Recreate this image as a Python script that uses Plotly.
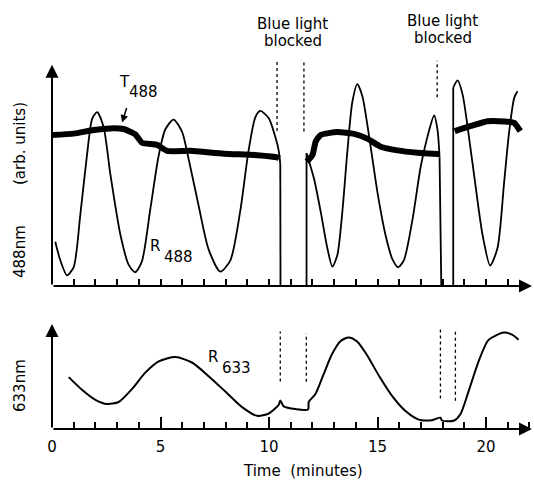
import plotly.graph_objects as go

# ---------------- data ----------------
# time in minutes; None separates blocked / vertical segments
t_r488 = [0.15, 0.38, 0.69, 1.0, 1.31, 1.62, 1.85, 2.08, 2.38, 2.69, 3.15, 3.53, 3.83, 4.14,
          4.53, 4.91, 5.22, 5.6, 5.99, 6.3, 6.76, 7.22, 7.76, 8.22, 8.68, 9.06, 9.37, 9.6,
          9.99, 10.3, 10.45, 10.52, None, 10.52, 10.53, None,
          11.73, 11.73, None,
          11.73, 12.07, 12.38, 12.69, 12.92, 13.15, 13.38, 13.61, 13.84, 14.07, 14.3, 14.61,
          15.0, 15.38, 15.69, 15.95, 16.22, 16.61, 16.99, 17.3, 17.61, 17.77, 17.86, None,
          17.86, 17.94, None,
          18.49, 18.49, None,
          18.49, 18.69, 18.92, 19.22, 19.53, 19.84, 20.19, 20.53, 20.84, 21.07, 21.3, 21.45]
r488 = [2.03, 1.19, 0.49, 0.87, 3.32, 6.07, 7.67, 7.98, 7.28, 5.12, 2.36, 0.98, 0.63, 1.12,
        3.52, 5.95, 7.18, 7.63, 7.08, 5.81, 3.67, 1.67, 0.66, 1.18, 3.47, 6.22, 7.74, 8.03,
        7.7, 6.81, 6.2, 5.6, None, 5.6, 0.0, None,
        0.0, 6.09, None,
        6.09, 4.94, 3.42, 1.73, 0.89, 1.42, 3.4, 6.15, 8.44, 9.26, 8.72, 6.89,
        4.28, 2.29, 1.22, 0.86, 1.19, 3.03, 5.47, 6.84, 7.82, 7.13, 5.9, None,
        5.9, 0.0, None,
        0.0, 9.1, None,
        9.1, 9.43, 8.79, 6.8, 4.5, 2.35, 0.94, 1.74, 4.8, 7.1, 8.63, 8.93]

t_t488 = [0.0, 1.0, 1.92, 2.69, 3.3, 3.84, 4.15, 4.85, 5.3, 6.38, 7.92, 9.46, 10.38, 10.47, None,
          11.74, 12.0, 12.15, 12.38, 13.15, 13.92, 14.53, 15.15, 15.92, 16.84, 17.77, 17.86, None,
          18.56, 19.3, 20.07, 20.84, 21.3, 21.58]
t488 = [6.93, 6.99, 7.16, 7.23, 7.2, 6.96, 6.57, 6.47, 6.2, 6.2, 6.07, 6.0, 5.9, 5.85, None,
        5.71, 6.0, 6.62, 6.93, 7.06, 6.98, 6.76, 6.39, 6.22, 6.11, 6.05, 6.05, None,
        7.1, 7.34, 7.56, 7.55, 7.48, 7.1]

t_r633 = [0.77, 1.38, 2.0, 2.53, 3.07, 3.69, 4.3, 4.92, 5.69, 6.45, 7.22, 7.99, 8.76, 9.45,
          9.99, 10.45, 10.52, 10.68, 11.22, 11.8, 11.83, 12.14, 12.52, 12.9, 13.29, 13.67,
          14.06, 14.52, 15.06, 15.67, 16.29, 16.75, 16.98, 17.51, 17.9, 17.97, 18.51, 18.82,
          19.2, 19.66, 20.12, 20.82, 21.2, 21.5]
r633 = [5.19, 3.93, 2.92, 2.5, 2.7, 4.01, 5.64, 6.77, 7.19, 6.65, 5.28, 3.74, 2.19, 1.32,
        1.55, 2.43, 2.86, 2.26, 1.99, 1.96, 2.7, 3.51, 5.49, 7.47, 8.78, 9.16,
        8.75, 7.38, 5.35, 3.32, 1.8, 1.09, 0.9, 0.88, 1.13, 0.85, 0.83, 1.48,
        3.79, 6.77, 8.91, 9.64, 9.43, 8.93]

# blocked-light markers: (time, y_low, y_high)
marks_top = [(10.37, 7.11, 10.33), (11.61, 7.09, 10.25), (17.75, 8.66, 10.33)]
marks_bot = [(10.52, 4.76, 9.76), (11.72, 4.72, 9.56), (17.9, 3.05, 10.05), (18.59, 2.83, 9.83)]

x_ticks_top = list(range(1, 22))
x_ticks_major = [0, 5, 10, 15, 20]
x_tick_labels = ["0", "5", "10", "15", "20"]

# ---------------- layout geometry ----------------
W, H = 534, 481
L, R, T, B = 52, 2, 55, 52
PW, PH = W - L - R, H - T - B
FONT = "DejaVu Sans"
XMAX = 22.12


def px(x):
    return (x - L) / PW


def py(y):
    return (H - B - y) / PH


fig = go.Figure()
line_shape = dict(shape="spline", smoothing=0.7)
fig.add_trace(go.Scatter(x=t_t488, y=t488, mode="lines", xaxis="x", yaxis="y",
                         line=dict(color="black", width=6, shape="spline", smoothing=0.5),
                         connectgaps=False, hoverinfo="skip"))
fig.add_trace(go.Scatter(x=t_r488, y=r488, mode="lines", xaxis="x", yaxis="y",
                         line=dict(color="black", width=1.8, **line_shape), connectgaps=False,
                         hoverinfo="skip"))
fig.add_trace(go.Scatter(x=t_r633, y=r633, mode="lines", xaxis="x2", yaxis="y2",
                         line=dict(color="black", width=2, **line_shape), hoverinfo="skip"))

shapes = []
for t, y0, y1 in marks_top:
    shapes.append(dict(type="line", xref="x", yref="y", x0=t, x1=t, y0=y0, y1=y1,
                       line=dict(color="black", width=1.3, dash="dot")))
for t, y0, y1 in marks_bot:
    shapes.append(dict(type="line", xref="x2", yref="y2", x0=t, x1=t, y0=y0, y1=y1,
                       line=dict(color="black", width=1.3, dash="dot")))

ann = []


def arrow(xr, yr, x, y, ax, ay):
    ann.append(dict(xref=xr, yref=yr, axref=xr, ayref=yr, x=x, y=y, ax=ax, ay=ay, text="",
                    showarrow=True, arrowhead=2, arrowsize=1.3, arrowwidth=2, arrowcolor="black"))


arrow("x", "y", XMAX, 0, 0, 0)
arrow("x", "y", 0, 10.15, 0, 0)
arrow("x2", "y2", XMAX, 0, 0, 0)
arrow("x2", "y2", 0, 10.5, 0, 0)


def text(s, x, y, size=15, angle=0):
    ann.append(dict(xref="paper", yref="paper", x=px(x), y=py(y), text=s, showarrow=False,
                    xanchor="center", yanchor="middle", textangle=angle,
                    font=dict(family=FONT, size=size, color="black")))


text("Blue light", 292, 24)
text("blocked", 293, 41)
text("Blue light", 442, 21)
text("blocked", 443, 38)
text("T", 124, 82, 15)
text("488", 143, 92, 15)
text("R", 155, 246, 15)
text("488", 178, 257, 15)
text("R", 213, 357, 15)
text("633", 236, 368, 15)
text("(arb. units)", 20, 144, 15, -90)
text("488nm", 20, 252, 15, -90)
text("633nm", 20, 386, 15, -90)
text("Time\u00a0\u00a0(minutes)", 303, 471, 15)

# small arrow from the T488 label to its trace
ann.append(dict(xref="x", yref="y", x=3.23, y=7.5, ax=5, ay=-16, text="", showarrow=True,
                arrowhead=2, arrowsize=1, arrowwidth=1.5, arrowcolor="black"))

top_dom = [py(286), 1.0]
bot_dom = [0.0, py(321)]

fig.update_layout(
    width=W, height=H,
    margin=dict(l=L, r=R, t=T, b=B, pad=0),
    paper_bgcolor="white", plot_bgcolor="white", showlegend=False,
    font=dict(family=FONT, color="black"),
    xaxis=dict(domain=[0, 1], range=[0, XMAX], anchor="y", showgrid=False, zeroline=False,
               showline=False, ticks="inside", tickvals=x_ticks_top, ticklen=7, tickwidth=1.5,
               tickcolor="black", showticklabels=False),
    yaxis=dict(domain=top_dom, range=[0, (286 - 55) / 21.8], anchor="x", visible=False),
    xaxis2=dict(domain=[0, 1], range=[0, XMAX], anchor="y2", showgrid=False, zeroline=False,
                showline=False, ticks="inside", tickvals=x_ticks_major, ticktext=x_tick_labels,
                ticklen=12, tickwidth=1.5, tickcolor="black",
                tickfont=dict(family=FONT, size=15, color="black"), ticklabelstandoff=7,
                minor=dict(ticks="inside", dtick=1, tick0=0, ticklen=7, tickwidth=1.5,
                           tickcolor="black")),
    yaxis2=dict(domain=bot_dom, range=[0, 10.8], anchor="x2", visible=False),
    shapes=shapes,
    annotations=ann,
)

fig.write_html("out.html", config={"displayModeBar": False},
               post_script="document.body.style.margin='0';")
